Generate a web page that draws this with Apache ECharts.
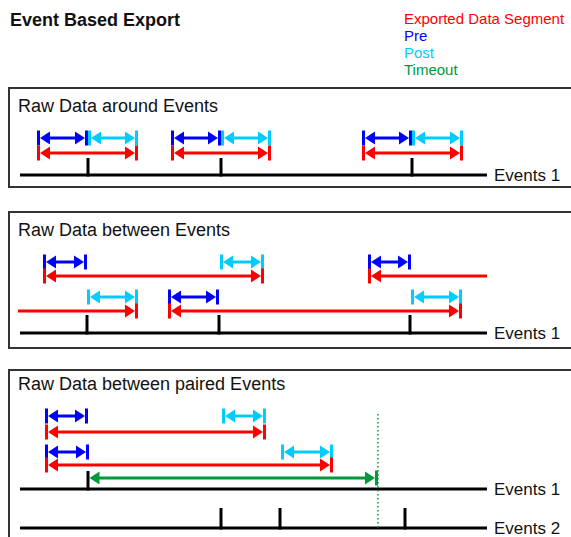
<!DOCTYPE html>
<html>
<head>
<meta charset="utf-8">
<script src="https://cdn.jsdelivr.net/npm/echarts@6/dist/echarts.min.js"></script>
<style>
  html, body { margin: 0; padding: 0; background: #fff; }
  #stage { width: 571px; height: 537px; }
</style>
</head>
<body>
<div id="stage"></div>
<script>
'use strict';

// --- data: time positions along the event axis ---
// [start, end, mode]  mode: 'openStart' / 'openEnd' = no arrow on that side, 'tickStart' = arrow without bar
const pre1 = [[37, 88], [171, 221], [362, 412]];
const post1 = [[88, 138], [221, 271], [412, 463]];
const seg1 = [[37, 138], [171, 271], [362, 463]];
const events1 = [88, 221, 412];

const pre2Top = [[43, 87], [368, 411]];
const post2Top = [[220, 264]];
const seg2Top = [[43, 264], [368, 487, 'openEnd']];
const pre2Bot = [[168, 219]];
const post2Bot = [[87, 138], [411, 462]];
const seg2Bot = [[18, 138, 'openStart'], [168, 462]];
const events2 = [87, 219, 410];

const pre3Top = [[45, 88]];
const post3Top = [[222, 266]];
const seg3Top = [[45, 266]];
const pre3Bot = [[45, 89]];
const post3Bot = [[281, 333]];
const seg3Bot = [[45, 333]];
const timeout3 = [[88, 378, 'tickStart']];
const events3a = [88];
const events3b = [221, 280, 405];
const timeoutLimit = 378;

const axisStart = 20;
const axisEnd = 487;
const legendNames = ['Exported Data Segment', 'Pre', 'Post', 'Timeout'];
const panelTitles = ['Raw Data around Events', 'Raw Data between Events', 'Raw Data between paired Events'];

// --- layout ---
const FONT = 'Liberation Sans, Arial, Helvetica, sans-serif';
const RED = '#ff0000', BLUE = '#0000ff', CYAN = '#00ccff', GREEN = '#009a3c';
const legendColors = [RED, BLUE, CYAN, GREEN];
const ROW = {
  p1: { pre: 138, seg: 153, axis: 175 },
  p2: { pre: 262, seg: 276, pre2: 297, seg2: 311, axis: 333 },
  p3: { pre: 416, seg: 432, pre2: 452, seg2: 465, timeout: 478, axis1: 489, axis2: 528 }
};

// build arrow items: [x1, x2, y, capStart, capEnd]  (cap: 0 none, 1 arrow+bar, 2 arrow only)
function arrows(list, y) {
  return list.map(function (s) {
    let capS = 1, capE = 1;
    if (s[2] === 'openStart') capS = 0;
    if (s[2] === 'openEnd') capE = 0;
    if (s[2] === 'tickStart') capS = 2;
    return [s[0], s[1], y, capS, capE];
  });
}
function ticks(list, y, h) {
  return list.map(function (x) { return [x, y, h]; });
}

function renderArrow(params, api) {
  const y = api.value(2);
  const a = api.coord([api.value(0), y]);
  const b = api.coord([api.value(1), y]);
  const capS = api.value(3), capE = api.value(4);
  const color = api.visual('color');
  const BW = 3, HL = 10, HW = 6.5, BH = 7.5;
  const py = a[1];
  const children = [];
  let ls = a[0], le = b[0];
  if (capS) {
    const tip = capS === 1 ? a[0] + BW : a[0] + 1.5;
    if (capS === 1) {
      children.push({ type: 'rect', shape: { x: a[0], y: py - BH, width: BW, height: BH * 2 }, style: { fill: color } });
    }
    children.push({ type: 'polygon', shape: { points: [[tip, py], [tip + HL, py - HW], [tip + HL, py + HW]] }, style: { fill: color } });
    ls = tip + HL - 1;
  }
  if (capE) {
    const tip = b[0] - BW;
    children.push({ type: 'rect', shape: { x: b[0] - BW, y: py - BH, width: BW, height: BH * 2 }, style: { fill: color } });
    children.push({ type: 'polygon', shape: { points: [[tip, py], [tip - HL, py - HW], [tip - HL, py + HW]] }, style: { fill: color } });
    le = tip - HL + 1;
  }
  children.unshift({ type: 'line', shape: { x1: ls, y1: py, x2: le, y2: py }, style: { stroke: color, lineWidth: 3 } });
  return { type: 'group', children: children };
}

function renderTimeline(params, api) {
  const a = api.coord([api.value(0), api.value(2)]);
  const b = api.coord([api.value(1), api.value(2)]);
  return {
    type: 'group',
    children: [
      { type: 'line', shape: { x1: a[0], y1: a[1], x2: b[0], y2: b[1] }, style: { stroke: '#000', lineWidth: 3 } },
      { type: 'text', x: b[0] + 7, y: b[1], style: { text: api.value(3) === 2 ? 'Events 2' : 'Events 1', font: '17px ' + FONT, fill: '#111', verticalAlign: 'middle' } }
    ]
  };
}

function renderTick(params, api) {
  const a = api.coord([api.value(0), api.value(1)]);
  const b = api.coord([api.value(0), api.value(1) - api.value(2)]);
  return { type: 'line', shape: { x1: a[0], y1: a[1] + 1.5, x2: b[0], y2: b[1] }, style: { stroke: '#000', lineWidth: 3 } };
}

function renderDotted(params, api) {
  const a = api.coord([api.value(0), api.value(1)]);
  const b = api.coord([api.value(0), api.value(2)]);
  return { type: 'line', shape: { x1: a[0], y1: a[1], x2: b[0], y2: b[1] }, style: { stroke: GREEN, lineWidth: 1.5, lineDash: [1.5, 2.5] } };
}

function arrowSeries(name, color, data) {
  return { type: 'custom', name: name, color: color, renderItem: renderArrow, clip: false, silent: true, data: data };
}

const chart = echarts.init(document.getElementById('stage'), null, { renderer: 'svg' });

const titleFont = '18px ' + FONT;
const option = {
  animation: false,
  title: {
    text: 'Event Based Export', left: 10, top: 11, padding: 0,
    textStyle: { fontSize: 18, fontWeight: 'bold', fontFamily: FONT, color: '#111' }
  },
  legend: {
    orient: 'vertical', left: 399, top: 11, padding: 0,
    itemWidth: 0, itemHeight: 14, itemGap: 2, selectedMode: false,
    textStyle: { fontSize: 15, fontFamily: FONT, lineHeight: 14 },
    data: legendNames.map(function (n, i) {
      return { name: n, icon: 'none', textStyle: { color: legendColors[i] } };
    })
  },
  grid: { left: 0, right: 0, top: 0, bottom: 0 },
  xAxis: { type: 'value', min: 0, max: 571, show: false },
  yAxis: { type: 'value', min: 0, max: 537, inverse: true, show: false },
  graphic: [
    { type: 'rect', shape: { x: 9, y: 88, width: 570, height: 99 }, style: { fill: 'none', stroke: '#333', lineWidth: 2 } },
    { type: 'rect', shape: { x: 9, y: 212, width: 570, height: 136 }, style: { fill: 'none', stroke: '#333', lineWidth: 2 } },
    { type: 'rect', shape: { x: 9, y: 370, width: 570, height: 200 }, style: { fill: 'none', stroke: '#333', lineWidth: 2 } },
    { type: 'text', x: 18, y: 106, style: { text: panelTitles[0], font: titleFont, fill: '#111', verticalAlign: 'middle' } },
    { type: 'text', x: 18, y: 230, style: { text: panelTitles[1], font: titleFont, fill: '#111', verticalAlign: 'middle' } },
    { type: 'text', x: 18, y: 384, style: { text: panelTitles[2], font: titleFont, fill: '#111', verticalAlign: 'middle' } }
  ],
  series: [
    {
      type: 'custom', name: 'axis', renderItem: renderTimeline, clip: false, silent: true,
      data: [
        [axisStart, axisEnd, ROW.p1.axis, 1],
        [axisStart, axisEnd, ROW.p2.axis, 1],
        [axisStart, axisEnd, ROW.p3.axis1, 1],
        [axisStart, axisEnd, ROW.p3.axis2, 2]
      ]
    },
    {
      type: 'custom', name: 'ticks', renderItem: renderTick, clip: false, silent: true,
      data: [].concat(
        ticks(events1, ROW.p1.axis, 17),
        ticks(events2, ROW.p2.axis, 18),
        ticks(events3a, ROW.p3.axis1, 18),
        ticks(events3b, ROW.p3.axis2, 20)
      )
    },
    {
      type: 'custom', name: 'Timeout', color: GREEN, renderItem: renderDotted, clip: false, silent: true,
      data: [[timeoutLimit, 414, ROW.p3.axis2]]
    },
    arrowSeries('Pre', BLUE, [].concat(
      arrows(pre1, ROW.p1.pre), arrows(pre2Top, ROW.p2.pre), arrows(pre2Bot, ROW.p2.pre2),
      arrows(pre3Top, ROW.p3.pre), arrows(pre3Bot, ROW.p3.pre2))),
    arrowSeries('Post', CYAN, [].concat(
      arrows(post1, ROW.p1.pre), arrows(post2Top, ROW.p2.pre), arrows(post2Bot, ROW.p2.pre2),
      arrows(post3Top, ROW.p3.pre), arrows(post3Bot, ROW.p3.pre2))),
    arrowSeries('Exported Data Segment', RED, [].concat(
      arrows(seg1, ROW.p1.seg), arrows(seg2Top, ROW.p2.seg), arrows(seg2Bot, ROW.p2.seg2),
      arrows(seg3Top, ROW.p3.seg), arrows(seg3Bot, ROW.p3.seg2))),
    arrowSeries('Timeout', GREEN, arrows(timeout3, ROW.p3.timeout))
  ]
};

chart.setOption(option);
</script>
</body>
</html>
